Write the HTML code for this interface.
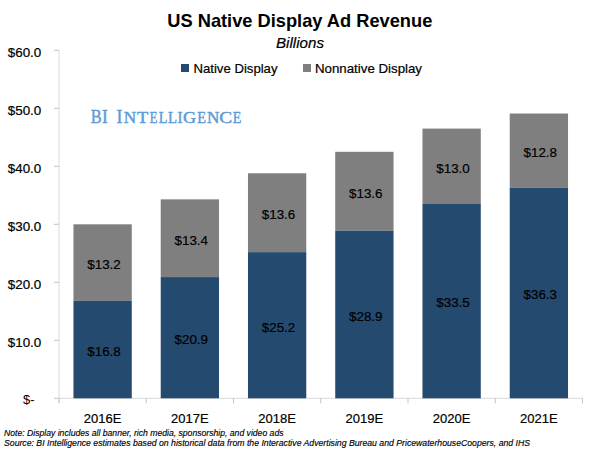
<!DOCTYPE html>
<html><head><meta charset="utf-8"><style>
html,body{margin:0;padding:0;background:#fff;width:600px;height:451px;overflow:hidden}
svg{display:block}
</style></head><body>
<svg width="600" height="451" viewBox="0 0 600 451">
<style>.t{stroke:#000;stroke-width:0.2px} .f{stroke:#000;stroke-width:0.15px}</style>
<rect width="600" height="451" fill="#fff"/>
<rect x="58.50" y="50.30" width="1" height="353" fill="#d9d9d9"/>
<rect x="58.50" y="397.80" width="524.00" height="1" fill="#d9d9d9"/>
<rect x="58.50" y="398.30" width="1" height="5" fill="#c4c4c4"/>
<rect x="145.75" y="398.30" width="1" height="5" fill="#c4c4c4"/>
<rect x="233.00" y="398.30" width="1" height="5" fill="#c4c4c4"/>
<rect x="320.25" y="398.30" width="1" height="5" fill="#c4c4c4"/>
<rect x="407.50" y="398.30" width="1" height="5" fill="#c4c4c4"/>
<rect x="494.75" y="398.30" width="1" height="5" fill="#c4c4c4"/>
<rect x="582.00" y="398.30" width="1" height="5" fill="#c4c4c4"/>
<rect x="54.00" y="397.80" width="5" height="1" fill="#c4c4c4"/>
<rect x="54.00" y="339.80" width="5" height="1" fill="#c4c4c4"/>
<rect x="54.00" y="281.80" width="5" height="1" fill="#c4c4c4"/>
<rect x="54.00" y="223.80" width="5" height="1" fill="#c4c4c4"/>
<rect x="54.00" y="165.80" width="5" height="1" fill="#c4c4c4"/>
<rect x="54.00" y="107.80" width="5" height="1" fill="#c4c4c4"/>
<rect x="54.00" y="49.80" width="5" height="1" fill="#c4c4c4"/>
<rect x="73.47" y="224.30" width="58.3" height="76.56" fill="#7f7f7f"/>
<rect x="73.47" y="300.86" width="58.3" height="97.44" fill="#244b6f"/>
<text x="104.03" y="268.88" text-anchor="middle" font-family="Liberation Sans" font-size="13.4" class="t" fill="#000000">$13.2</text>
<text x="104.03" y="355.88" text-anchor="middle" font-family="Liberation Sans" font-size="13.4" class="t" fill="#000000">$16.8</text>
<text x="102.62" y="422.8" text-anchor="middle" font-family="Liberation Sans" font-size="13" class="t" fill="#000000">2016E</text>
<rect x="160.72" y="199.36" width="58.3" height="77.72" fill="#7f7f7f"/>
<rect x="160.72" y="277.08" width="58.3" height="121.22" fill="#244b6f"/>
<text x="191.28" y="244.52" text-anchor="middle" font-family="Liberation Sans" font-size="13.4" class="t" fill="#000000">$13.4</text>
<text x="191.28" y="343.99" text-anchor="middle" font-family="Liberation Sans" font-size="13.4" class="t" fill="#000000">$20.9</text>
<text x="189.88" y="422.8" text-anchor="middle" font-family="Liberation Sans" font-size="13" class="t" fill="#000000">2017E</text>
<rect x="247.97" y="173.26" width="58.3" height="78.88" fill="#7f7f7f"/>
<rect x="247.97" y="252.14" width="58.3" height="146.16" fill="#244b6f"/>
<text x="278.52" y="219.00" text-anchor="middle" font-family="Liberation Sans" font-size="13.4" class="t" fill="#000000">$13.6</text>
<text x="278.52" y="331.52" text-anchor="middle" font-family="Liberation Sans" font-size="13.4" class="t" fill="#000000">$25.2</text>
<text x="277.12" y="422.8" text-anchor="middle" font-family="Liberation Sans" font-size="13" class="t" fill="#000000">2018E</text>
<rect x="335.23" y="151.80" width="58.3" height="78.88" fill="#7f7f7f"/>
<rect x="335.23" y="230.68" width="58.3" height="167.62" fill="#244b6f"/>
<text x="365.77" y="197.54" text-anchor="middle" font-family="Liberation Sans" font-size="13.4" class="t" fill="#000000">$13.6</text>
<text x="365.77" y="320.79" text-anchor="middle" font-family="Liberation Sans" font-size="13.4" class="t" fill="#000000">$28.9</text>
<text x="364.38" y="422.8" text-anchor="middle" font-family="Liberation Sans" font-size="13" class="t" fill="#000000">2019E</text>
<rect x="422.48" y="128.60" width="58.3" height="75.40" fill="#7f7f7f"/>
<rect x="422.48" y="204.00" width="58.3" height="194.30" fill="#244b6f"/>
<text x="453.02" y="172.60" text-anchor="middle" font-family="Liberation Sans" font-size="13.4" class="t" fill="#000000">$13.0</text>
<text x="453.02" y="307.45" text-anchor="middle" font-family="Liberation Sans" font-size="13.4" class="t" fill="#000000">$33.5</text>
<text x="451.62" y="422.8" text-anchor="middle" font-family="Liberation Sans" font-size="13" class="t" fill="#000000">2020E</text>
<rect x="509.73" y="113.52" width="58.3" height="74.24" fill="#7f7f7f"/>
<rect x="509.73" y="187.76" width="58.3" height="210.54" fill="#244b6f"/>
<text x="540.27" y="156.94" text-anchor="middle" font-family="Liberation Sans" font-size="13.4" class="t" fill="#000000">$12.8</text>
<text x="540.27" y="299.33" text-anchor="middle" font-family="Liberation Sans" font-size="13.4" class="t" fill="#000000">$36.3</text>
<text x="538.88" y="422.8" text-anchor="middle" font-family="Liberation Sans" font-size="13" class="t" fill="#000000">2021E</text>
<text x="41.3" y="346.80" text-anchor="end" font-family="Liberation Sans" font-size="13.4" class="t" fill="#000000">$10.0</text>
<text x="41.3" y="288.80" text-anchor="end" font-family="Liberation Sans" font-size="13.4" class="t" fill="#000000">$20.0</text>
<text x="41.3" y="230.80" text-anchor="end" font-family="Liberation Sans" font-size="13.4" class="t" fill="#000000">$30.0</text>
<text x="41.3" y="172.80" text-anchor="end" font-family="Liberation Sans" font-size="13.4" class="t" fill="#000000">$40.0</text>
<text x="41.3" y="114.80" text-anchor="end" font-family="Liberation Sans" font-size="13.4" class="t" fill="#000000">$50.0</text>
<text x="41.3" y="56.80" text-anchor="end" font-family="Liberation Sans" font-size="13.4" class="t" fill="#000000">$60.0</text>
<text x="34.5" y="404" text-anchor="end" font-family="Liberation Sans" font-size="13" fill="#000000">$-</text>
<text x="299.8" y="26.5" text-anchor="middle" font-family="Liberation Sans" font-weight="bold" font-size="18.2" textLength="265" lengthAdjust="spacingAndGlyphs" fill="#000000">US Native Display Ad Revenue</text>
<text x="300" y="47.7" text-anchor="middle" font-family="Liberation Sans" font-style="italic" font-size="14.3" textLength="48" lengthAdjust="spacingAndGlyphs" class="t" fill="#000000">Billions</text>
<rect x="181" y="64" width="8" height="8" fill="#244b6f"/>
<text x="193.5" y="72.8" font-family="Liberation Sans" font-size="13" textLength="84" lengthAdjust="spacingAndGlyphs" class="t" fill="#000000">Native Display</text>
<rect x="303" y="64" width="8" height="8" fill="#7f7f7f"/>
<text x="315" y="72.8" font-family="Liberation Sans" font-size="13" textLength="107" lengthAdjust="spacingAndGlyphs" class="t" fill="#000000">Nonnative Display</text>
<text transform="translate(90.87,122.9) scale(0.851,1)" font-family="Liberation Serif" font-size="19.2" fill="#5b9bd5" stroke="#5b9bd5" stroke-width="0.45">B</text>
<text transform="translate(101.88,122.9) scale(0.907,1)" font-family="Liberation Serif" font-size="19.2" fill="#5b9bd5" stroke="#5b9bd5" stroke-width="0.45">I</text>
<text transform="translate(116.57,122.9) scale(0.926,1)" font-family="Liberation Serif" font-size="19.2" fill="#5b9bd5" stroke="#5b9bd5" stroke-width="0.45">I</text>
<text transform="translate(123.66,122.9) scale(1.018,1)" font-family="Liberation Serif" font-size="16.9" fill="#5b9bd5" stroke="#5b9bd5" stroke-width="0.45">N</text>
<text transform="translate(136.92,122.9) scale(1.093,1)" font-family="Liberation Serif" font-size="16.9" fill="#5b9bd5" stroke="#5b9bd5" stroke-width="0.45">T</text>
<text transform="translate(149.65,122.9) scale(0.742,1)" font-family="Liberation Serif" font-size="16.9" fill="#5b9bd5" stroke="#5b9bd5" stroke-width="0.45">E</text>
<text transform="translate(158.81,122.9) scale(0.844,1)" font-family="Liberation Serif" font-size="16.9" fill="#5b9bd5" stroke="#5b9bd5" stroke-width="0.45">L</text>
<text transform="translate(168.10,122.9) scale(0.877,1)" font-family="Liberation Serif" font-size="16.9" fill="#5b9bd5" stroke="#5b9bd5" stroke-width="0.45">L</text>
<text transform="translate(177.56,122.9) scale(0.877,1)" font-family="Liberation Serif" font-size="16.9" fill="#5b9bd5" stroke="#5b9bd5" stroke-width="0.45">I</text>
<text transform="translate(182.97,122.9) scale(1.076,1)" font-family="Liberation Serif" font-size="16.9" fill="#5b9bd5" stroke="#5b9bd5" stroke-width="0.45">G</text>
<text transform="translate(197.31,122.9) scale(0.850,1)" font-family="Liberation Serif" font-size="16.9" fill="#5b9bd5" stroke="#5b9bd5" stroke-width="0.45">E</text>
<text transform="translate(206.96,122.9) scale(1.018,1)" font-family="Liberation Serif" font-size="16.9" fill="#5b9bd5" stroke="#5b9bd5" stroke-width="0.45">N</text>
<text transform="translate(219.23,122.9) scale(1.143,1)" font-family="Liberation Serif" font-size="16.9" fill="#5b9bd5" stroke="#5b9bd5" stroke-width="0.45">C</text>
<text transform="translate(232.72,122.9) scale(0.828,1)" font-family="Liberation Serif" font-size="16.9" fill="#5b9bd5" stroke="#5b9bd5" stroke-width="0.45">E</text>
<text x="4" y="435.7" font-family="Liberation Sans" font-style="italic" font-size="8.65" class="f" fill="#000000">Note: Display includes all banner, rich media, sponsorship, and video ads</text>
<text x="4" y="446.2" font-family="Liberation Sans" font-style="italic" font-size="8.7" class="f" fill="#000000">Source: BI Intelligence estimates based on historical data from the Interactive Advertising Bureau and PricewaterhouseCoopers, and IHS</text>
</svg>
</body></html>
